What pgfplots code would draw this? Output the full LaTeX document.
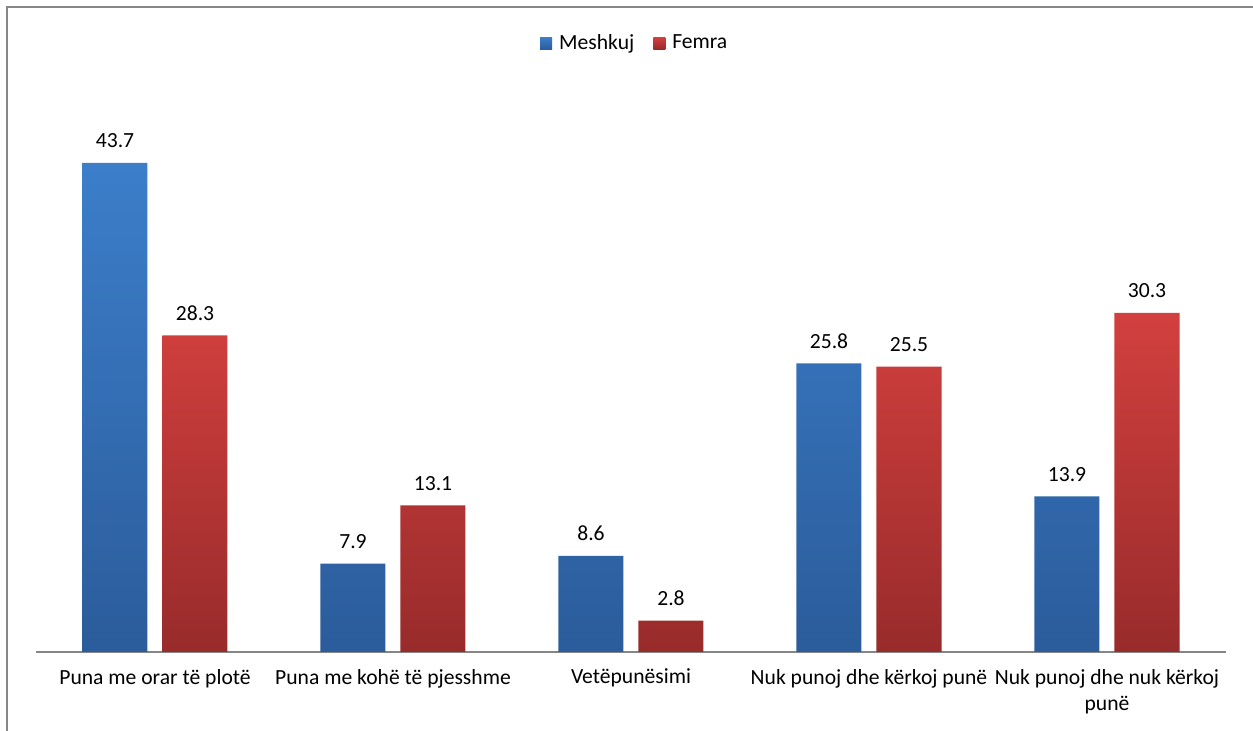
\documentclass[border=0pt]{standalone}
\usepackage{pgfplots}
\pgfplotsset{compat=1.18}
\usepackage{fontspec}
\setmainfont{Carlito}
\definecolor{btop}{RGB}{60,126,202}
\definecolor{bbot}{RGB}{43,92,155}
\definecolor{rtop}{RGB}{210,64,62}
\definecolor{rbot}{RGB}{152,43,43}
\definecolor{frame}{RGB}{134,134,134}
\begin{document}
\begin{tikzpicture}
\begin{axis}[
  scale only axis,
  width=595pt, height=279.75pt,
  xmin=-0.5, xmax=4.5, ymin=0, ymax=50,
  ybar=7.5pt, bar width=32.5pt,
  hide y axis,
  axis x line*=bottom,
  x axis line style={-, draw=frame, line width=0.8pt},
  xtick={0,1,2,3,4},
  xticklabels={Puna me orar të plotë, Puna me kohë të pjesshme, Vetëpunësimi, Nuk punoj dhe kërkoj punë, {Nuk punoj dhe nuk kërkoj\\punë}},
  xticklabel style={align=center, font=\fontsize{10.8}{13}\selectfont, yshift=-5pt},
  major tick length=0pt,
  /pgf/number format/assume math mode=true,
  nodes near coords,
  nodes near coords style={font=\fontsize{10.8}{12}\selectfont, /pgf/number format/fixed, /pgf/number format/precision=1, /pgf/number format/fixed zerofill, yshift=4pt},
  clip=false,
  legend style={at={(0.504,1.088)}, anchor=center, draw=none, legend columns=2, font=\fontsize{10.8}{12}\selectfont, /tikz/every even column/.append style={column sep=7.5pt}},
  legend image code/.code={\path[#1] (0pt,-3pt) rectangle (6pt,3pt); \path (0pt,0pt) -- (7.5pt,0pt);},
]
\addplot[draw=none, top color=btop, bottom color=bbot] coordinates {(0,43.7) (1,7.9) (2,8.6) (3,25.8) (4,13.9)};
\addplot[draw=none, top color=rtop, bottom color=rbot] coordinates {(0,28.3) (1,13.1) (2,2.8) (3,25.5) (4,30.3)};
\legend{Meshkuj, Femra}
\end{axis}
\pgfresetboundingbox
\path[use as bounding box] (-18pt,-39.5pt) rectangle (608.5pt,326pt);
\draw[frame, line width=1pt] (-14.5pt,-40pt) -- (-14.5pt,322.5pt) -- (610pt,322.5pt);
\end{tikzpicture}
\end{document}
